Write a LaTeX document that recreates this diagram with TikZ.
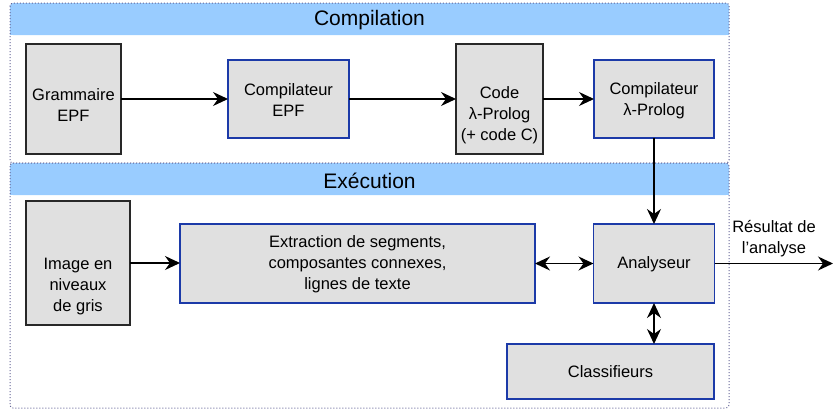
\documentclass[tikz,border=0pt]{standalone}
\usepackage{fontspec}
\setmainfont{Liberation Sans}
\usetikzlibrary{arrows.meta}
\definecolor{bandblue}{RGB}{153,204,255}
\definecolor{boxfill}{RGB}{224,224,224}
\definecolor{boxblue}{RGB}{28,58,168}
\definecolor{boxdark}{RGB}{40,40,40}
\definecolor{framegray}{RGB}{100,100,150}
\tikzset{
  >={Stealth[length=15pt,width=14pt,inset=5pt]},
  blk/.style={draw=boxdark, fill=boxfill, line width=1.3pt,
    inner sep=0pt, outer sep=0pt},
  blu/.style={blk, draw=boxblue},
  lbl/.style={align=center, inner sep=0pt, font=\fontsize{16.5}{21}\selectfont},
  conn/.style={line width=1.4pt, ->},
  conn2/.style={line width=1.4pt, <->},
  band/.style={fill=bandblue},
  framebox/.style={draw=framegray, dotted, line width=1pt, rounded corners=3pt},
  hdr/.style={font=\fontsize{21}{25}\selectfont, inner sep=0pt}
}
\begin{document}
\begin{tikzpicture}[x=1pt,y=-1pt]
\useasboundingbox (0,0) rectangle (833,410);

% section headers and frames
\fill[band, rounded corners=3pt] (10,3) rectangle (729,35);
\fill[band] (10,20) rectangle (729,35);
\draw[framebox] (10,3) rectangle (729,163);
\node[hdr] (hcomp) at (369.5,20) {Compilation};

\fill[band, rounded corners=3pt] (10,163) rectangle (729,195);
\fill[band] (10,180) rectangle (729,195);
\draw[framebox] (10,163) rectangle (729,408);
\node[hdr] (hexec) at (369.5,181) {Exécution};

% compilation chain
\node[blk, minimum width=95pt, minimum height=110pt] (gram) at (73.5,99) {};
\node[lbl] (gramt) at (73.5,105) {Grammaire\\EPF};
\node[blu, minimum width=121pt, minimum height=78pt] (cepf) at (288.5,99) {};
\node[lbl] (cepft) at (288.5,100) {Compilateur\\EPF};
\node[blk, minimum width=87pt, minimum height=110pt] (code) at (499.5,99) {};
\node[lbl] (codet) at (499.5,115.5) {Code\\λ-Prolog\\(+ code C)};
\node[blu, minimum width=120pt, minimum height=78pt] (clp) at (654,99) {};
\node[lbl] (clpt) at (654,100.5) {Compilateur\\λ-Prolog};

% execution chain
\node[blk, minimum width=104pt, minimum height=124pt] (img) at (78,263) {};
\node[lbl] (imgt) at (78,287) {Image en\\niveaux\\de gris};
\node[blu, minimum width=355pt, minimum height=79pt] (extr) at (357.5,263.5) {};
\node[lbl] (extrt) at (357.5,264) {Extraction de segments,\\composantes connexes,\\lignes de texte};
\node[blu, minimum width=121pt, minimum height=79pt] (ana) at (654,263.5) {};
\node[lbl] (anat) at (654,264) {Analyseur};
\node[blu, minimum width=207pt, minimum height=55pt] (cls) at (610.5,371.5) {};
\node[lbl] (clst) at (610.5,372) {Classifieurs};

\coordinate (out) at (833,263.5);
\node[lbl] (res) at (774,239) {Résultat de\\l'analyse};

% connectors
\draw[conn] (gram) -- (cepf);
\draw[conn] (cepf) -- (code);
\draw[conn] (code) -- (clp);
\draw[conn] (clp) -- (ana);
\draw[conn] (img.east) -- (img.east -| extr.west);
\draw[conn2] (extr.east) -- (ana.west);
\draw[conn2] (ana.south) -- (ana.south |- cls.north);
\draw[conn] (ana.east) -- (out);
\end{tikzpicture}
\end{document}
